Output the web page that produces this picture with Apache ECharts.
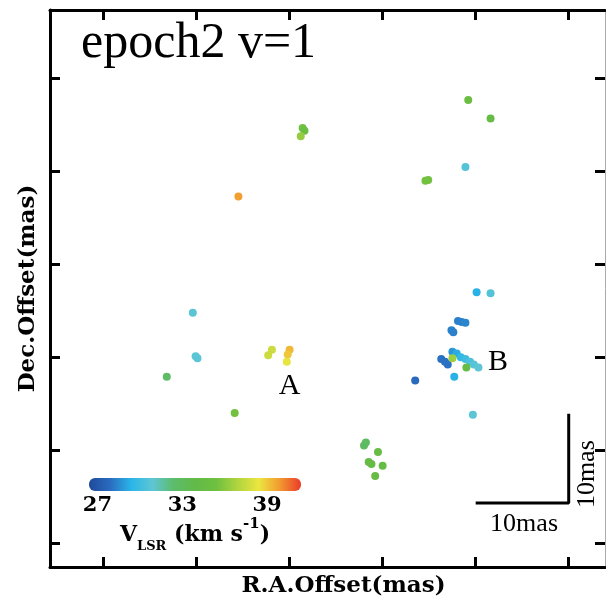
<!DOCTYPE html>
<html>
<head>
<meta charset="utf-8">
<script src="https://cdn.jsdelivr.net/npm/echarts@6/dist/echarts.min.js"></script>
<style>
html, body { margin: 0; padding: 0; background: #fff; }
#main { width: 606px; height: 604px; }
</style>
</head>
<body>
<div id="main"></div>
<script>
// maser spots: R.A. offset (mas), Dec. offset (mas), V_LSR (km/s)
var raOffset = [21.4, 21.6, 21.2, 39.2, 41.6, 38.9, 34.6, 34.9, 14.5,
    9.6, 9.9, 10.1, 6.8, 14.1,
    18.1, 17.7, 20.0, 19.8, 19.7,
    40.1, 41.6, 38.1, 38.5, 38.9, 37.4, 37.6,
    37.5, 37.96, 38.4, 38.9, 39.4, 39.8, 40.3,
    36.3, 36.7, 37.0, 37.5, 39.0, 37.7, 33.5, 39.7,
    28.0, 28.2, 29.5, 28.5, 28.8, 30.0, 29.2];
var decOffset = [44.7, 44.4, 43.8, 47.7, 45.7, 40.5, 39.0, 39.1, 37.3,
    24.8, 20.1, 19.9, 17.9, 14.0,
    20.8, 20.2, 20.8, 20.3, 19.5,
    27.0, 26.9, 23.9, 23.8, 23.7, 22.9, 22.7,
    20.6, 20.4, 20.0, 19.8, 19.5, 19.2, 18.9,
    19.8, 19.5, 19.2, 19.9, 18.9, 17.9, 17.5, 13.8,
    10.5, 10.8, 9.8, 8.7, 8.5, 8.3, 7.2];
var vlsr = [35.5, 35.0, 36.3, 35.0, 34.5, 30.6, 35.5, 35.5, 39.8,
    30.8, 30.8, 30.8, 32.6, 35.5,
    37.6, 37.6, 39.3, 39.0, 38.3,
    29.3, 30.6, 28.3, 28.3, 28.4, 28.3, 28.3,
    28.8, 29.2, 29.6, 30.0, 30.4, 30.7, 30.9,
    28.0, 28.0, 28.0, 36.5, 34.5, 29.3, 27.8, 30.8,
    32.8, 32.8, 34.5, 34.5, 34.5, 34.5, 34.5];

var gridTicks = [0, 10, 20, 30, 40, 50];
var velMin = 26.4, velMax = 41.4;
var barTicks = [27, 33, 39];
var velColors = ['#1f4a9a', '#2a6cc0', '#2ab6e8', '#5ec6d4', '#5cbc6a', '#62ba48',
    '#6ec040', '#b0d440', '#ece640', '#f29a30', '#ea3a2a'];

var sourceNames = ['A', 'B'];
var sourceRa = [20.0, 42.4];
var sourceDec = [16.9, 19.5];

var scaleBarRa = [40, 50, 50];
var scaleBarDec = [4.3, 4.3, 13.9];

var spots = [];
for (var i = 0; i < raOffset.length; i++) {
    spots.push([raOffset[i], decOffset[i], vlsr[i]]);
}
var sourceLabels = [];
for (var i = 0; i < sourceNames.length; i++) {
    sourceLabels.push({ name: sourceNames[i], value: [sourceRa[i], sourceDec[i]] });
}
var scaleBar = [];
for (var i = 0; i < scaleBarRa.length; i++) {
    scaleBar.push([scaleBarRa[i], scaleBarDec[i]]);
}
var stops = [];
for (var i = 0; i < velColors.length; i++) {
    stops.push({ offset: i / (velColors.length - 1), color: velColors[i] });
}

var serif = 'Liberation Serif';
var bold = 'DejaVu Serif';

function frameAxis(pos, isX, solid) {
    return {
        type: 'value',
        gridIndex: 0,
        position: pos,
        min: isX ? -5.75 : -2.6,
        max: isX ? 53.9 : 57.4,
        splitLine: { show: false },
        axisLine: { show: true, onZero: false, lineStyle: { color: solid ? '#000' : '#aaa', width: solid ? 3 : 1 } },
        axisTick: { show: true, inside: true, length: 10, customValues: gridTicks, lineStyle: { color: '#000', width: 3 } },
        axisLabel: { show: false }
    };
}

var chart = echarts.init(document.getElementById('main'));

var xBottom = frameAxis('bottom', true, true);
xBottom.name = 'R.A.Offset(mas)';
xBottom.nameLocation = 'middle';
xBottom.nameGap = 8;
xBottom.nameTextStyle = { fontFamily: bold, fontWeight: 'bold', fontSize: 23, color: '#000', padding: [0, 0, 0, 32] };

var yLeft = frameAxis('left', false, true);
yLeft.name = 'Dec.Offset(mas)';
yLeft.nameLocation = 'middle';
yLeft.nameGap = 10;
yLeft.nameTextStyle = { fontFamily: bold, fontWeight: 'bold', fontSize: 23, color: '#000' };

var option = {
    animation: false,
    backgroundColor: '#fff',
    title: {
        text: 'epoch2 v=1',
        left: 76,
        top: 14,
        textStyle: { fontFamily: serif, fontWeight: 'normal', fontSize: 50, color: '#000' }
    },
    grid: [
        { left: 50, right: 1, top: 10, bottom: 37, outerBoundsMode: 'none', containLabel: false },
        { left: 89, width: 212, top: 478, height: 13, outerBoundsMode: 'none', containLabel: false }
    ],
    xAxis: [
        xBottom,
        frameAxis('top', true, true),
        {
            type: 'value', gridIndex: 1, min: velMin, max: velMax,
            splitLine: { show: false }, axisLine: { show: false }, axisTick: { show: false },
            axisLabel: {
                customValues: barTicks, margin: 4,
                fontFamily: bold, fontWeight: 'bold', fontSize: 21, color: '#000'
            },
            name: '{v|V}{s|LSR}{v| (km s}{p|-1}{v|)}',
            nameLocation: 'middle',
            nameGap: 32,
            nameTextStyle: {
                padding: [0, 0, 0, 0],
                rich: {
                    v: { fontFamily: bold, fontWeight: 'bold', fontSize: 22, color: '#000', verticalAlign: 'bottom' },
                    s: { fontFamily: bold, fontWeight: 'bold', fontSize: 13, color: '#000', verticalAlign: 'bottom', padding: [0, 0, -7, 0] },
                    p: { fontFamily: bold, fontWeight: 'bold', fontSize: 15, color: '#000', verticalAlign: 'top', padding: [-7, 0, 0, 0] }
                }
            }
        }
    ],
    yAxis: [
        yLeft,
        frameAxis('right', false, false),
        { type: 'value', gridIndex: 1, min: 0, max: 1, show: false }
    ],
    visualMap: {
        type: 'continuous',
        show: false,
        seriesIndex: 0,
        dimension: 2,
        min: velMin,
        max: velMax,
        inRange: { color: velColors }
    },
    series: [
        {
            type: 'scatter',
            xAxisIndex: 0,
            yAxisIndex: 0,
            symbolSize: 8,
            itemStyle: { opacity: 1 },
            data: spots,
            z: 3
        },
        {
            type: 'scatter',
            xAxisIndex: 0,
            yAxisIndex: 0,
            symbolSize: 0,
            itemStyle: { opacity: 1 },
            data: sourceLabels,
            label: {
                show: true, position: 'inside', formatter: '{b}',
                fontFamily: serif, fontSize: 30, color: '#000'
            },
            z: 4
        },
        {
            type: 'line',
            xAxisIndex: 0,
            yAxisIndex: 0,
            data: scaleBar,
            symbol: 'none',
            lineStyle: { color: '#000', width: 3 },
            z: 4
        },
        {
            type: 'scatter',
            xAxisIndex: 0,
            yAxisIndex: 0,
            symbolSize: 0,
            itemStyle: { opacity: 1 },
            data: [
                { name: '10mas', value: [45.2, 2.05] },
                { name: '10mas', value: [52.0, 7.4], label: { rotate: 90 } }
            ],
            label: {
                show: true, position: 'inside', formatter: '{b}',
                fontFamily: serif, fontSize: 26, color: '#000'
            },
            z: 4
        },
        {
            type: 'custom',
            xAxisIndex: 2,
            yAxisIndex: 2,
            data: [[velMin, velMax]],
            renderItem: function (params, api) {
                var p0 = api.coord([api.value(0), 0]);
                var p1 = api.coord([api.value(1), 1]);
                return {
                    type: 'rect',
                    shape: { x: p0[0], y: p1[1], width: p1[0] - p0[0], height: p0[1] - p1[1], r: 6 },
                    style: { fill: new echarts.graphic.LinearGradient(0, 0, 1, 0, stops) }
                };
            }
        }
    ]
};

chart.setOption(option);
</script>
</body>
</html>
